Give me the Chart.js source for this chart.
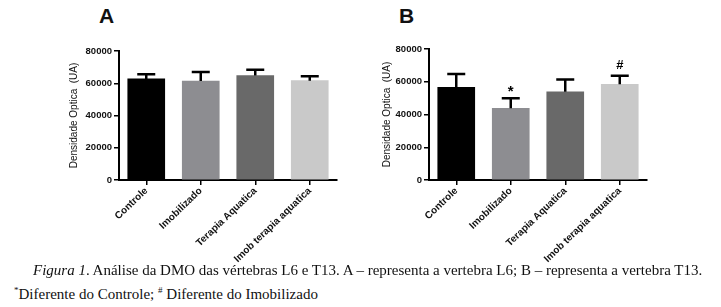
<!DOCTYPE html>
<html>
<head>
<meta charset="utf-8">
<script src="https://cdn.jsdelivr.net/npm/chart.js@4/dist/chart.umd.min.js"></script>
<style>
  body { margin: 0; background: #fff; width: 721px; height: 307px; position: relative; overflow: hidden; }
  .box { position: absolute; top: 0; height: 268px; }
  .panel { position: absolute; top: 5px; font: bold 21px Arial, "Liberation Sans", sans-serif; line-height: 21px; color: #111; }
  .cap { position: absolute; font-family: "Liberation Serif", "Times New Roman", serif; font-size: 15px; color: #111; white-space: nowrap; line-height: 16px; }
</style>
</head>
<body>
<div class="panel" style="left:99px">A</div>
<div class="panel" style="left:399px">B</div>
<div class="box" style="left:0; width:360px"><canvas id="chartA"></canvas></div>
<div class="box" style="left:360px; width:361px"><canvas id="chartB"></canvas></div>
<div class="cap" style="left:33px; top:262px"><i>Figura 1</i>. Análise da DMO das vértebras L6 e T13. A – representa a vertebra L6; B – representa a vertebra T13.</div>
<div class="cap" style="left:14px; top:282px"><sup style="font-size:9px">*</sup>Diferente do Controle; <sup style="font-size:9px">#</sup> Diferente do Imobilizado</div>
<script>
// dados
const categories = ["Controle", "Imobilizado", "Terapia Aquatica", "Imob terapia aquatica"];
const meansA = [62700, 61400, 64800, 61600];
const sdA = [2900, 5600, 3500, 2800];
const meansB = [56600, 43800, 53900, 58400];
const sdB = [8200, 6200, 7400, 5300];
const marksB = ["", "*", "", "#"];
const yTicks = [0, 20000, 40000, 60000, 80000];
const barColors = ["#000000", "#8d8d91", "#696969", "#c9c9c9"];

const fontFam = "Arial, 'Liberation Sans', sans-serif";

// barras de erro (só para cima) e marcas de significância
const errorBars = {
  id: "errorBars",
  afterDatasetsDraw(chart, args, opts) {
    const ctx = chart.ctx;
    const yScale = chart.scales.y;
    const ds = chart.data.datasets[0];
    chart.getDatasetMeta(0).data.forEach((bar, i) => {
      const top = yScale.getPixelForValue(ds.data[i] + opts.sd[i]);
      ctx.save();
      ctx.strokeStyle = "#000";
      ctx.lineWidth = 2.5;
      ctx.beginPath();
      ctx.moveTo(bar.x, bar.y);
      ctx.lineTo(bar.x, top);
      ctx.moveTo(bar.x - 9, top);
      ctx.lineTo(bar.x + 9, top);
      ctx.stroke();
      const m = opts.marks ? opts.marks[i] : "";
      if (m) {
        ctx.fillStyle = "#000";
        ctx.font = (m === "*" ? "bold 15px " : "bold 13px ") + fontFam;
        ctx.textAlign = "center";
        ctx.textBaseline = "middle";
        ctx.fillText(m, bar.x, top - (m === "*" ? 6 : 10));
      }
      ctx.restore();
    });
  }
};

function makeChart(id, means, sd, marks, pad, yWidth, yTitle) {
  const ctx = document.getElementById(id).getContext("2d");
  return new Chart(ctx, {
    type: "bar",
    data: {
      labels: categories,
      datasets: [{
        data: means,
        backgroundColor: barColors,
        barThickness: 37
      }]
    },
    options: {
      responsive: true,
      maintainAspectRatio: false,
      animation: false,
      layout: { padding: pad },
      plugins: {
        legend: { display: false },
        tooltip: { enabled: false },
        errorBars: { sd: sd, marks: marks }
      },
      scales: {
        x: {
          offset: true,
          grid: { display: true, drawOnChartArea: false, offset: false, color: "#000", tickLength: 5, lineWidth: 1.5 },
          border: { color: "#000", width: 2 },
          ticks: { color: "#111", font: { family: fontFam, size: 10, weight: "bold" }, maxRotation: 44, minRotation: 44, padding: 0 },
          afterFit: (s) => { s.height = 88; }
        },
        y: {
          min: 0,
          max: 80000,
          afterBuildTicks: (s) => { s.ticks = yTicks.map(v => ({ value: v })); },
          grid: { display: true, drawOnChartArea: false, color: "#000", tickLength: 5, lineWidth: 1.5 },
          border: { color: "#000", width: 2 },
          ticks: { color: "#111", font: { family: fontFam, size: 9.5, weight: "bold" }, padding: 2, callback: (v) => String(v) },
          title: {
            display: true,
            text: yTitle,
            color: "#111",
            padding: { top: 0, bottom: 0 },
            font: { family: fontFam, size: 10 }
          },
          afterFit: (s) => { s.width = yWidth; }
        }
      }
    },
    plugins: [errorBars]
  });
}

makeChart("chartA", meansA, sdA, null, { left: 68, right: 23, top: 51, bottom: 0 }, 51, "Densidade Optica  (UA)");
makeChart("chartB", meansB, sdB, marksB, { left: 21, right: 74, top: 49, bottom: 0 }, 48, "Densidade Optica  (UA)");
</script>
</body>
</html>
